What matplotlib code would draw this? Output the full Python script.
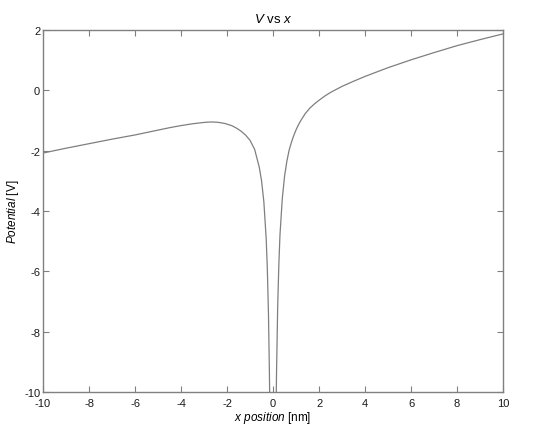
import matplotlib
matplotlib.use("Agg")
import matplotlib.pyplot as plt
import numpy as np

plt.rcParams['font.family'] = ['Liberation Sans', 'DejaVu Sans']
plt.rcParams['mathtext.fontset'] = 'custom'
plt.rcParams['mathtext.rm'] = 'Liberation Sans'
plt.rcParams['mathtext.it'] = 'Liberation Sans:italic'

# Data
x_left = [-10, -9, -8, -7, -6, -5, -4.5, -4, -3.5, -3, -2.7, -2.4, -2.1, -1.8,
          -1.6, -1.4, -1.2, -1.0, -0.8, -0.6, -0.5, -0.4, -0.3, -0.25, -0.2,
          -0.16, -0.14]
v_left = [-2.08, -1.92, -1.77, -1.62, -1.48, -1.32, -1.24, -1.17, -1.11, -1.065,
          -1.05, -1.06, -1.10, -1.17, -1.25, -1.35, -1.48, -1.66, -1.96, -2.55,
          -3.0, -3.7, -4.9, -5.9, -7.4, -9.3, -10.6]
x_right = [0.13, 0.15, 0.2, 0.25, 0.3, 0.4, 0.5, 0.6, 0.7, 0.8, 0.9, 1.0, 1.1,
           1.2, 1.4, 1.6, 1.8, 2.0, 2.25, 2.5, 3.0, 3.5, 4, 5, 6, 7, 8, 9, 10]
v_right = [-10.6, -9.4, -7.2, -5.8, -4.8, -3.6, -2.85, -2.35, -1.98, -1.72,
           -1.50, -1.31, -1.15, -1.01, -0.77, -0.59, -0.45, -0.33, -0.19, -0.07,
           0.13, 0.30, 0.46, 0.75, 1.01, 1.25, 1.48, 1.68, 1.87]

x_ticks = [-10, -8, -6, -4, -2, 0, 2, 4, 6, 8, 10]
y_ticks = [-10, -8, -6, -4, -2, 0, 2]

fig = plt.figure(figsize=(5.35, 4.31), dpi=100)
ax = fig.add_axes([0.0804, 0.0882, 0.860, 0.840])

line_color = '#7f7f7f'
ax.plot(x_left + [np.nan] + x_right, v_left + [np.nan] + v_right,
        color=line_color, linewidth=0.9)

ax.set_xlim(-10, 10)
ax.set_ylim(-10, 2)
ax.set_xticks(x_ticks)
ax.set_yticks(y_ticks)
ax.set_xticklabels([str(t) for t in x_ticks])
ax.set_yticklabels([str(t) for t in y_ticks])

for s in ax.spines.values():
    s.set_color('#808080')
    s.set_linewidth(1.0)
ax.tick_params(direction='in', length=4, width=0.8, color='#808080',
               top=True, right=True, labelsize=8, labelcolor='#1a1a1a')
ax.tick_params(axis='x', pad=4)
ax.tick_params(axis='y', pad=2)

ax.set_title(r'$\it{V}$ vs $\it{x}$', fontsize=9.5, pad=6)
ax.set_xlabel(r'$\it{x\ position}$ [nm]', fontsize=8.5, labelpad=1)
ax.set_ylabel(r'$\it{Potential}$ [V]', fontsize=8.5, labelpad=2)

fig.savefig('out.png', dpi=100)
